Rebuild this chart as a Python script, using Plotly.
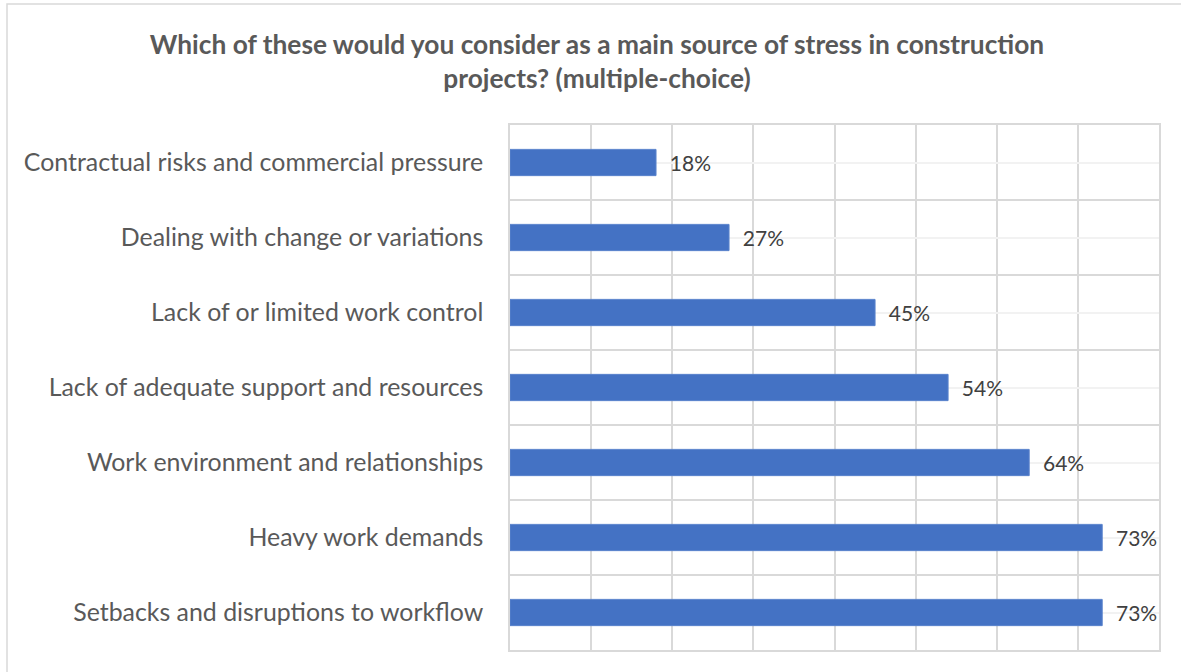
import plotly.graph_objects as go

categories = [
    "Setbacks and disruptions to workflow",
    "Heavy work demands",
    "Work environment and relationships",
    "Lack of adequate support and resources",
    "Lack of or limited work control",
    "Dealing with change or variations",
    "Contractual risks and commercial pressure",
]
values = [0.73, 0.73, 0.64, 0.54, 0.45, 0.27, 0.18]
x_ticks = [0, 0.1, 0.2, 0.3, 0.4, 0.5, 0.6, 0.7, 0.8]

FONT = "Lato"
W, H = 1181, 672
L, R, T, B = 510, 22, 125, 22

ypos = list(range(len(categories)))

fig = go.Figure(go.Bar(
    x=values, y=ypos, orientation="h",
    marker=dict(color="#4472C4", line=dict(color="#5a83cc", width=1)),
    width=0.35,
    text=[f"{round(v*100)}%" for v in values],
    texttemplate="  %{text}",
    textposition="outside",
    textfont=dict(family=FONT, size=21, color="#404040"),
    cliponaxis=False,
))

fig.update_layout(
    width=W, height=H,
    margin=dict(l=L, r=R, t=T, b=B),
    paper_bgcolor="white", plot_bgcolor="white",
    showlegend=False,
    title=dict(
        text="<b>Which of these would you consider as a main source of stress in construction<br>projects? (multiple-choice)</b>",
        x=597 / W, xanchor="center", xref="container",
        y=1 - 54 / H, yanchor="top", yref="container",
        font=dict(family=FONT, size=26.3, color="#595959"),
    ),
    xaxis=dict(
        range=[0, 0.8], tickvals=x_ticks, showticklabels=False,
        showgrid=True, gridcolor="#d9d9d9", gridwidth=1.5,
        zeroline=False, showline=True, linecolor="#d9d9d9", linewidth=1.5, mirror=True,
        fixedrange=True,
    ),
    yaxis=dict(
        range=[-0.5, len(categories) - 0.5],
        tickmode="array", tickvals=ypos, ticktext=categories,
        tickfont=dict(family=FONT, size=24.9, color="#595959"),
        ticklabelstandoff=20,
        showgrid=True, gridcolor="#f2f2f2", gridwidth=1.5,
        minor=dict(tickmode="linear", tick0=-0.5, dtick=1, showgrid=True,
                   gridcolor="#d9d9d9", gridwidth=1.5),
        zeroline=False, showline=True, linecolor="#d9d9d9", linewidth=1.5, mirror=True,
        fixedrange=True,
    ),
    shapes=[dict(
        type="rect", xref="paper", yref="paper",
        x0=(7 - L) / (W - L - R), x1=(W + 5 - L) / (W - L - R),
        y0=(H - B - (H + 5)) / (H - T - B), y1=(H - B - 4) / (H - T - B),
        line=dict(color="#d9d9d9", width=1.5), fillcolor="rgba(0,0,0,0)", layer="below",
    )],
)

fig.write_html("out.html")
